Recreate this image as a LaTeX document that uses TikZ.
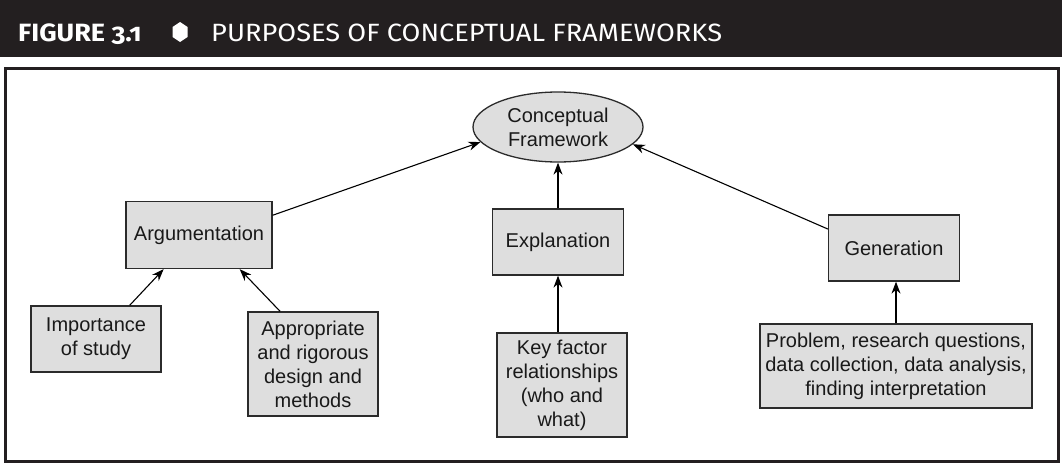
\documentclass[tikz,border=0pt]{standalone}
\usepackage{fontspec}
\setmainfont{Liberation Sans}
\newfontfamily\headfont[Numbers=OldStyle]{Fira Sans}
\usetikzlibrary{shapes, arrows.meta, positioning}
\definecolor{headbg}{HTML}{231F20}
\definecolor{boxfill}{HTML}{DEDEDE}
\definecolor{boxline}{HTML}{2B2B2B}
\tikzstyle{purpose} = [rectangle, draw=boxline, line width=1.3pt, fill=boxfill, align=center, text=black!90, font=\fontsize{20}{24}\selectfont, inner sep=0pt]
\tikzstyle{connector} = [draw, line width=1.1pt, -{Stealth[length=12pt, width=9pt]}]
\tikzstyle{heading} = [anchor=base west, text=white, inner sep=0pt]

\begin{document}
\begin{tikzpicture}[x=1pt, y=-1pt]
        \useasboundingbox (0, 0) rectangle (1062, 466);

        \fill[headbg] (0, 0) rectangle (1062, 57);
        \node[heading, font=\headfont\bfseries\fontsize{25}{30}\selectfont] (fignum) at (18, 41) {\scalebox{1.08}[1]{FIGURE 3.1}};
        \fill[white] (180, 22) -- (187.5, 27) -- (187.5, 37) -- (180, 42) -- (172.5, 37) -- (172.5, 27) -- cycle;
        \node[heading, font=\headfont\fontsize{25}{30}\selectfont] (title) at (211, 41) {\scalebox{1.09}[1]{PURPOSES OF CONCEPTUAL FRAMEWORKS}};
        \draw[headbg, line width=3pt] (5.5, 68) rectangle (1058.5, 461.5);

        \node[purpose, ellipse, minimum width=170pt, minimum height=70pt] (concept) at (558, 127) {Conceptual\\Framework};

        \node[purpose, minimum width=146pt, minimum height=67pt] (argument) at (199, 235) {Argumentation};
        \node[purpose, minimum width=131pt, minimum height=66pt] (explain) at (558, 242) {Explanation};
        \node[purpose, minimum width=131pt, minimum height=66pt] (generate) at (894, 248) {Generation};

        \node[purpose, minimum width=130pt, minimum height=66pt] (importance) at (96, 339) {Importance\\of study};
        \node[purpose, minimum width=130pt, minimum height=104pt] (rigour) at (313, 364) {Appropriate\\and rigorous\\design and\\methods};
        \node[purpose, minimum width=130pt, minimum height=104pt] (keyfactor) at (562, 385) {Key factor\\relationships\\(who and\\what)};
        \node[purpose, minimum width=272pt, minimum height=84pt] (problem) at (896, 366) {Problem, research questions,\\data collection, data analysis,\\finding interpretation};

        \draw[connector] (argument.15) -- (concept.191);
        \draw[connector] (explain.north) -- (concept.south);
        \draw[connector] (generate.164) -- (concept.347);

        \draw[connector] (importance.45) -- (argument.224);
        \draw[connector] (rigour.122) -- (argument.320);
        \draw[connector] (explain.south |- keyfactor.north) -- (explain.south);
        \draw[connector] (problem.north) -- (problem.north |- generate.south);

    \end{tikzpicture}
\end{document}
